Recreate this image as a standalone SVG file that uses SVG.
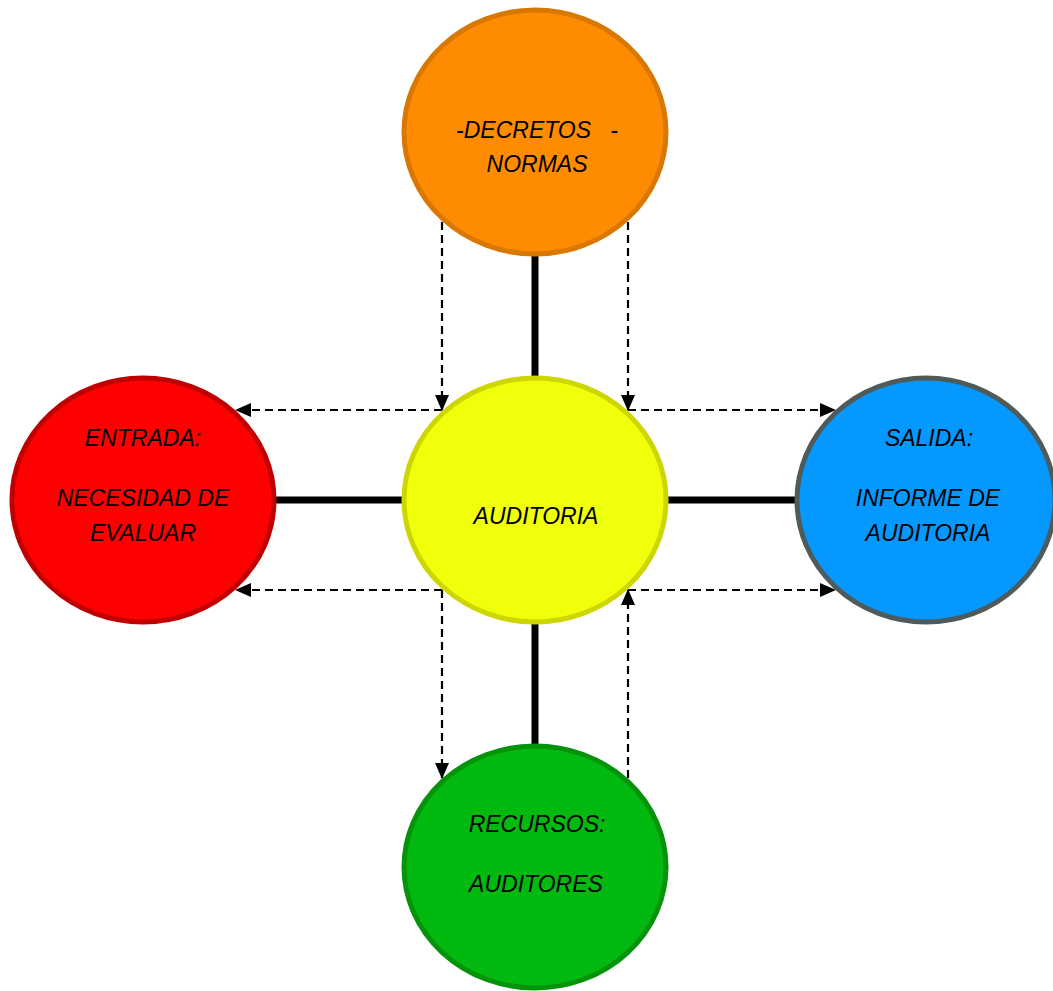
<svg xmlns="http://www.w3.org/2000/svg" width="1053" height="991" viewBox="0 0 1053 991">
<style>
  .node { stroke-width: 5; }
  .lbl { font-family: "Liberation Sans", "DejaVu Sans", sans-serif; font-style: italic; font-size: 23px; fill: #000; text-anchor: middle; white-space: pre; }
  .thick { stroke: #000; stroke-width: 7; fill: none; }
  .dash { stroke: #000; stroke-width: 2.2; stroke-dasharray: 8 5; fill: none; marker-end: url(#arr); }
</style>
<defs>
  <marker id="arr" markerUnits="userSpaceOnUse" markerWidth="16" markerHeight="16" viewBox="0 0 16 16" refX="15" refY="8" orient="auto">
    <path d="M0,1 L16,8 L0,15 Z" fill="#000"/>
  </marker>
</defs>
<rect width="1053" height="991" fill="#fff"/>
<g id="connectors">
  <line class="thick" x1="535" y1="255" x2="535" y2="378"/>
  <line class="thick" x1="535" y1="622" x2="535" y2="746"/>
  <line class="thick" x1="274" y1="500" x2="404" y2="500"/>
  <line class="thick" x1="666" y1="500" x2="799" y2="500"/>
  <line class="dash" x1="442" y1="222" x2="442" y2="410"/>
  <line class="dash" x1="628" y1="222" x2="628" y2="410"/>
  <line class="dash" x1="442" y1="410" x2="236" y2="410"/>
  <line class="dash" x1="628" y1="410" x2="835" y2="410"/>
  <line class="dash" x1="442" y1="590" x2="236" y2="590"/>
  <line class="dash" x1="628" y1="590" x2="835" y2="590"/>
  <line class="dash" x1="442" y1="590" x2="442" y2="778"/>
  <line class="dash" x1="628" y1="778" x2="628" y2="590"/>
</g>
<g id="node-decretos">
  <ellipse class="node" cx="535" cy="132" rx="131" ry="122" fill="#FF8C00" stroke="#D97800"/>
  <text class="lbl" x="537" y="138">-DECRETOS   -</text>
  <text class="lbl" x="537" y="172">NORMAS</text>
</g>
<g id="node-auditoria">
  <ellipse class="node" cx="535" cy="500" rx="131" ry="122" fill="#F0FF0A" stroke="#CDD600"/>
  <text class="lbl" x="536" y="524">AUDITORIA</text>
</g>
<g id="node-entrada">
  <ellipse class="node" cx="143" cy="500" rx="131" ry="122" fill="#FF0000" stroke="#C00000"/>
  <text class="lbl" x="143" y="446">ENTRADA:</text>
  <text class="lbl" x="143" y="506">NECESIDAD DE</text>
  <text class="lbl" x="143" y="541">EVALUAR</text>
</g>
<g id="node-salida">
  <ellipse class="node" cx="926" cy="500" rx="129" ry="122" fill="#0599FF" stroke="#4F5B5B"/>
  <text class="lbl" x="929" y="446">SALIDA:</text>
  <text class="lbl" x="928" y="506">INFORME DE</text>
  <text class="lbl" x="928" y="541">AUDITORIA</text>
</g>
<g id="node-recursos">
  <ellipse class="node" cx="535" cy="867" rx="131" ry="121" fill="#02B90F" stroke="#04930A"/>
  <text class="lbl" x="537" y="832">RECURSOS:</text>
  <text class="lbl" x="536" y="892">AUDITORES</text>
</g>
</svg>
